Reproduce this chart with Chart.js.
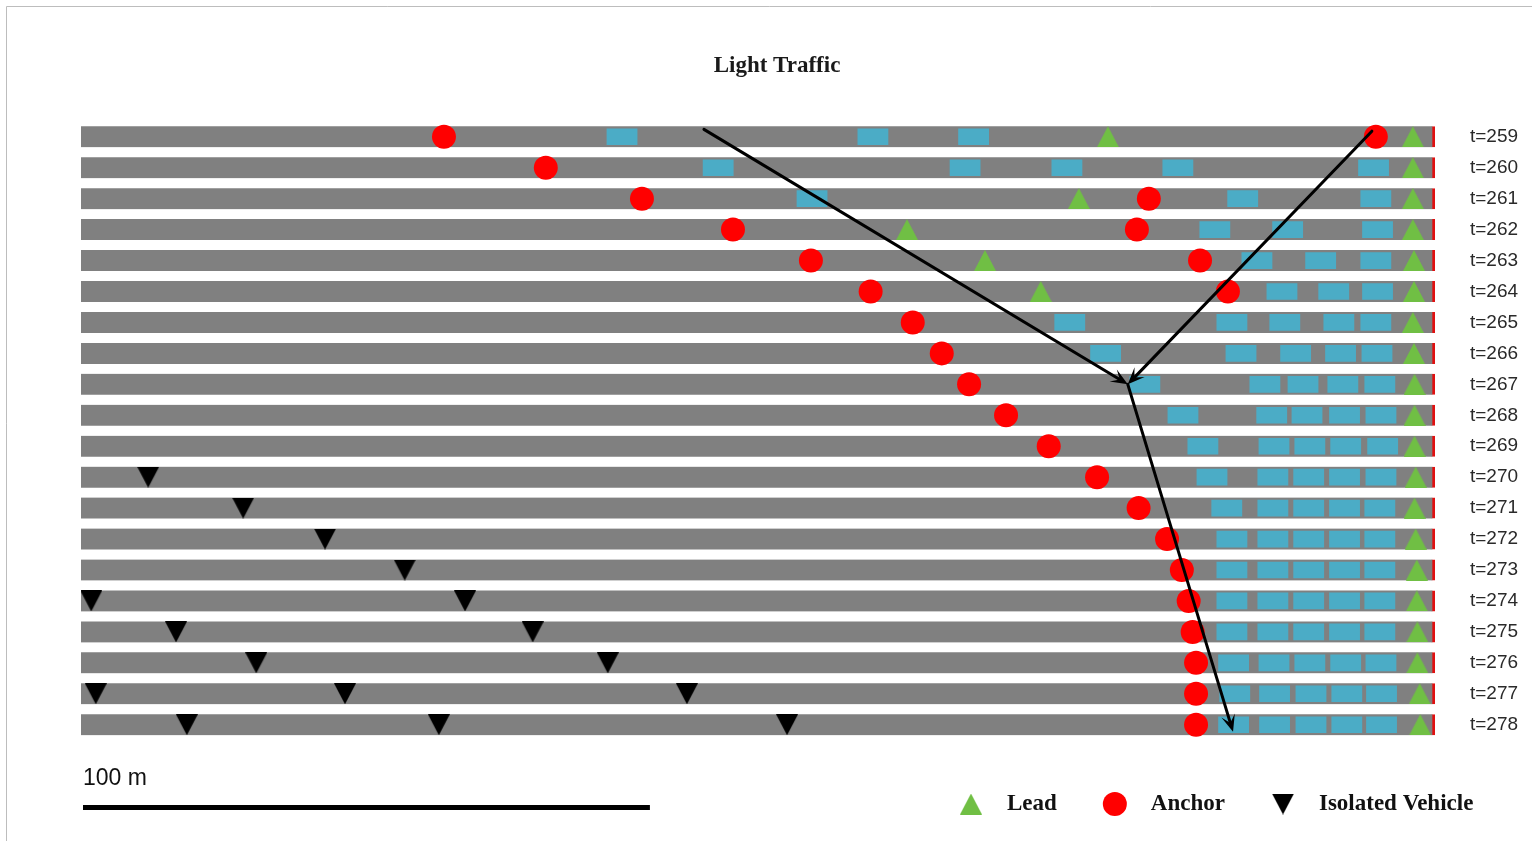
<!DOCTYPE html>
<html>
<head>
<meta charset="utf-8">
<title>Light Traffic</title>
<script src="https://cdn.jsdelivr.net/npm/chart.js@4/dist/chart.umd.min.js"></script>
<style>
  html, body { margin: 0; padding: 0; background: #ffffff; }
  canvas { display: block; }
</style>
</head>
<body>
<canvas id="traffic" width="1532" height="841"></canvas>
<script>
// Simulation time steps (one lane snapshot per step)
const timeSteps = [259, 260, 261, 262, 263, 264, 265, 266, 267, 268,
                   269, 270, 271, 272, 273, 274, 275, 276, 277, 278];

// Road segment length and scale bar length, in metres
const roadLength = 238;
const scaleBarLength = 100;

// Anchor vehicle positions (m) for each time step
const anchorPos = [
  [63.8, 227.6], [81.7], [98.6, 187.7], [114.6, 185.6], [128.3, 196.7],
  [138.8, 201.6], [146.2], [151.3], [156.1], [162.6],
  [170.1], [178.6], [185.9], [190.9], [193.5],
  [194.7], [195.4], [196.0], [196.0], [196.0]
];

// Lead vehicle positions (m)
const leadPos = [
  [180.5, 234.1], [234.1], [175.4, 234.1], [145.2, 234.1], [158.9, 234.3],
  [168.7, 234.3], [234.1], [234.3], [234.4], [234.4],
  [234.4], [234.6], [234.4], [234.6], [234.8],
  [234.8], [234.9], [234.9], [235.3], [235.4]
];

// Isolated vehicle positions (m)
const isolatedPos = [
  [], [], [], [], [],
  [], [], [], [], [],
  [], [11.8], [28.5], [42.9], [56.9],
  [1.8, 67.5], [16.7, 79.4], [30.8, 92.6], [2.6, 46.4, 106.5], [18.6, 62.9, 124.1]
];

// Other (platoon member) vehicle positions (m)
const vehiclePos = [
  [95.1, 139.2, 156.9],
  [112.0, 155.4, 173.3, 192.8, 227.2],
  [128.5, 204.2, 227.6],
  [199.3, 212.1, 227.9],
  [206.7, 217.9, 227.6],
  [211.1, 220.2, 227.9],
  [173.8, 202.3, 211.6, 221.1, 227.6],
  [180.1, 203.9, 213.5, 221.4, 227.8],
  [187.0, 208.1, 214.8, 221.8, 228.3],
  [193.7, 209.3, 215.5, 222.1, 228.5],
  [197.2, 209.7, 216.0, 222.3, 228.8],
  [198.8, 209.5, 215.8, 222.1, 228.5],
  [201.4, 209.5, 215.8, 222.1, 228.3],
  [202.3, 209.5, 215.8, 222.1, 228.3],
  [202.3, 209.5, 215.8, 222.1, 228.3],
  [202.3, 209.5, 215.8, 222.1, 228.3],
  [202.3, 209.5, 215.8, 222.1, 228.3],
  [202.6, 209.7, 216.0, 222.3, 228.5],
  [202.8, 209.8, 216.2, 222.5, 228.6],
  [202.6, 209.8, 216.2, 222.5, 228.6]
];

// Arrows tracing the anchor hand-over: [x (m), time step] start and end
const arrows = [
  { from: [109.5, 258.76], to: [184.0, 267.0] },
  { from: [226.9, 258.82], to: [184.0, 267.0] },
  { from: [184.0, 267.0], to: [202.5, 278.23] }
];

const legendItems = ['Lead', 'Anchor', 'Isolated Vehicle'];

// ---- drawing helpers -------------------------------------------------
const VEHICLE_LEN = 5.3; // m
const Y_MIN = timeSteps[0] - 0.5;
const Y_MAX = timeSteps[timeSteps.length - 1] + 0.5;

function triangleIcon(w, h, color, pointingDown) {
  const c = document.createElement('canvas');
  c.width = w; c.height = h;
  const g = c.getContext('2d');
  g.fillStyle = color;
  g.beginPath();
  if (pointingDown) {
    g.moveTo(0, 0); g.lineTo(w, 0); g.lineTo(w / 2, h);
  } else {
    g.moveTo(w / 2, 0); g.lineTo(w, h); g.lineTo(0, h);
  }
  g.closePath();
  g.fill();
  return c;
}

const GREEN = '#70bf44';
const RED = '#ff0000';
const BLUE = '#4bacc6';
const LANE = '#808080';

const leadIcon = triangleIcon(22, 21, GREEN, false);
const isolatedIcon = triangleIcon(22, 21, '#000000', true);

const points = (arr) => arr.flatMap((row, i) => row.map(p => ({ x: p, y: timeSteps[i] })));

const laneData = timeSteps.map(t => ({ y: t, x: [0, roadLength] }));
const vehicleData = vehiclePos.flatMap((row, i) =>
  row.map(p => ({ y: timeSteps[i], x: [p - VEHICLE_LEN / 2, p + VEHICLE_LEN / 2] })));

// ---- annotations: frame, title, arrows, scale bar, legend --------------
const annotations = {
  id: 'annotations',
  beforeDraw(chart) {
    const ctx = chart.ctx;
    ctx.save();
    ctx.strokeStyle = '#bdbdbd';
    ctx.lineWidth = 1;
    ctx.beginPath();
    ctx.moveTo(6.5, 841); ctx.lineTo(6.5, 6.5); ctx.lineTo(1532, 6.5);
    ctx.stroke();
    ctx.restore();
  },
  afterDatasetsDraw(chart) {
    const { ctx, scales: { x, y } } = chart;
    ctx.save();

    // arrows
    ctx.strokeStyle = '#000';
    ctx.fillStyle = '#000';
    ctx.lineWidth = 3;
    ctx.lineCap = 'round';
    arrows.forEach(a => {
      const x0 = x.getPixelForValue(a.from[0]), y0 = y.getPixelForValue(a.from[1]);
      const x1 = x.getPixelForValue(a.to[0]), y1 = y.getPixelForValue(a.to[1]);
      const ang = Math.atan2(y1 - y0, x1 - x0);
      const c = Math.cos(ang), s = Math.sin(ang);
      const L = 17, W = 7;
      ctx.beginPath();
      ctx.moveTo(x0, y0);
      ctx.lineTo(x1 - c * L * 0.55, y1 - s * L * 0.55);
      ctx.stroke();
      ctx.beginPath();
      ctx.moveTo(x1, y1);
      ctx.lineTo(x1 - c * L - s * W, y1 - s * L + c * W);
      ctx.lineTo(x1 - c * L * 0.55, y1 - s * L * 0.55);
      ctx.lineTo(x1 - c * L + s * W, y1 - s * L - c * W);
      ctx.closePath();
      ctx.fill();
    });

    // title
    ctx.fillStyle = '#1a1a1a';
    ctx.font = 'bold 23px "Liberation Serif"';
    ctx.textAlign = 'center';
    ctx.textBaseline = 'middle';
    ctx.fillText('Light Traffic', 777, 66);

    // scale bar
    const sx0 = x.getPixelForValue(0), sx1 = x.getPixelForValue(scaleBarLength);
    ctx.strokeStyle = '#000';
    ctx.lineWidth = 5;
    ctx.lineCap = 'butt';
    ctx.beginPath();
    ctx.moveTo(sx0 + 2, 807.5);
    ctx.lineTo(sx1, 807.5);
    ctx.stroke();
    ctx.fillStyle = '#111';
    ctx.font = '23px "Liberation Sans"';
    ctx.textAlign = 'left';
    ctx.fillText(scaleBarLength + ' m', sx0 + 2, 779);

    // legend
    ctx.font = 'bold 23px "Liberation Serif"';
    ctx.textBaseline = 'middle';
    let cx = 971;
    const ly = 804;
    legendItems.forEach(label => {
      const ds = chart.data.datasets.find(d => d.label === label);
      ctx.fillStyle = ds.backgroundColor || '#000';
      Chart.helpers.drawPoint(ctx, {
        pointStyle: ds.pointStyle, radius: ds.pointRadius, rotation: 0, borderWidth: 0
      }, cx, ly);
      ctx.fillStyle = '#111';
      const tx = cx + 36;
      ctx.fillText(label, tx, ly);
      cx = tx + ctx.measureText(label).width + 58;
    });

    ctx.restore();
  }
};

new Chart(document.getElementById('traffic'), {
  type: 'scatter',
  data: {
    datasets: [
      {
        type: 'bar', label: 'Lane', indexAxis: 'y', grouped: false, order: 4,
        data: laneData, backgroundColor: LANE, borderColor: '#e01010',
        borderWidth: { top: 0, right: 3, bottom: 0, left: 0 }, borderSkipped: false,
        barThickness: 21
      },
      {
        type: 'bar', label: 'Vehicle', indexAxis: 'y', grouped: false, order: 3,
        data: vehicleData, backgroundColor: BLUE, borderWidth: 0, barThickness: 16
      },
      {
        label: 'Anchor', order: 2, data: points(anchorPos),
        pointStyle: 'circle', pointRadius: 12, backgroundColor: RED, borderWidth: 0
      },
      {
        label: 'Lead', order: 1, data: points(leadPos),
        pointStyle: leadIcon, pointRadius: 11, backgroundColor: GREEN, borderWidth: 0
      },
      {
        label: 'Isolated Vehicle', order: 1, data: points(isolatedPos),
        pointStyle: isolatedIcon, pointRadius: 11, backgroundColor: '#000', borderWidth: 0
      }
    ]
  },
  options: {
    responsive: false,
    animation: false,
    layout: { padding: { left: 81, right: 0, top: 121.3, bottom: 100.8 } },
    plugins: { legend: { display: false }, tooltip: { enabled: false }, title: { display: false } },
    scales: {
      x: { type: 'linear', display: false, min: 0, max: roadLength, offset: false },
      y: {
        type: 'linear', position: 'right', reverse: true, offset: false,
        min: Y_MIN, max: Y_MAX,
        afterBuildTicks: s => { s.ticks = timeSteps.map(v => ({ value: v })); },
        afterFit: s => { s.width = 97; s.paddingTop = 0; s.paddingBottom = 0; },
        grid: { display: false, drawTicks: false, offset: false },
        border: { display: false },
        ticks: {
          autoSkip: false, padding: 35, color: '#2a2a2a',
          font: { family: 'Liberation Sans', size: 19 },
          callback: v => 't=' + v
        }
      }
    }
  },
  plugins: [annotations]
});
</script>
</body>
</html>
